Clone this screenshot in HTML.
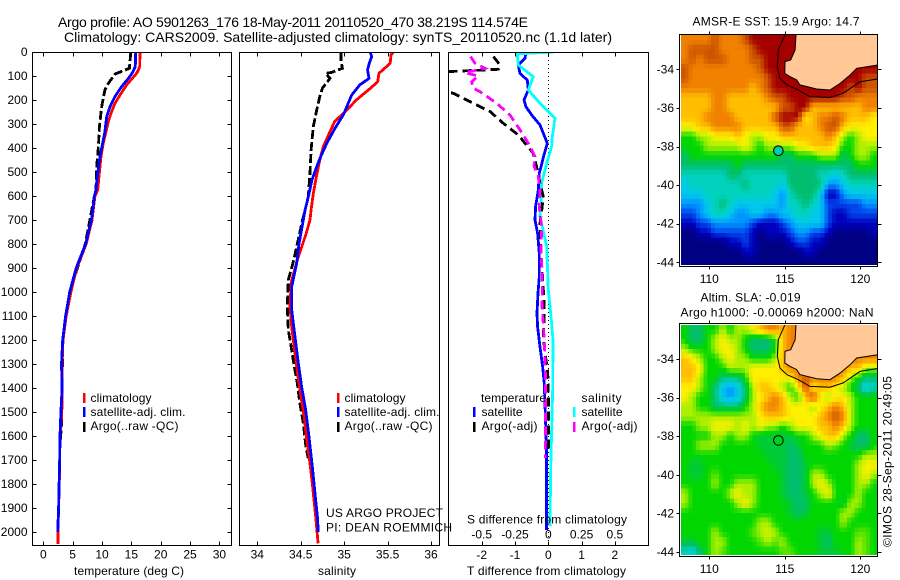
<!DOCTYPE html>
<html>
<head>
<meta charset="utf-8">
<title>Argo profile</title>
<style>
html,body{margin:0;padding:0;background:#fff;width:900px;height:580px;overflow:hidden}
svg{display:block}
text{font-family:"Liberation Sans",sans-serif;font-size:12px;fill:#000}
.title{font-size:14px}
.m{font-size:13px}
</style>
</head>
<body>
<svg id="chart" width="900" height="580" viewBox="0 0 900 580" xmlns="http://www.w3.org/2000/svg">
<defs>
<clipPath id="clipT"><rect x="32" y="52" width="199" height="493"/></clipPath>
<clipPath id="clipS"><rect x="239" y="52" width="200" height="493"/></clipPath>
<clipPath id="clipD"><rect x="448" y="52" width="200" height="493"/></clipPath>
<clipPath id="clipM1"><rect x="681" y="35" width="196" height="230"/></clipPath>
<clipPath id="clipM2"><rect x="681" y="325" width="196" height="230"/></clipPath>
</defs>

<text class="title" x="58" y="27" textLength="470">Argo profile: AO 5901263_176 18-May-2011 20110520_470 38.219S 114.574E</text>
<text class="title" x="64" y="42" textLength="548">Climatology: CARS2009. Satellite-adjusted climatology: synTS_20110520.nc (1.1d later)</text>

<g id="panelT"></g>
<g id="panelS"></g>
<g id="panelD"></g>
<g id="map1"></g>
<g id="map2"></g>

<text x="74" y="575" textLength="110">temperature (deg C)</text>
<text x="318" y="575" textLength="38">salinity</text>
<text x="467" y="575" textLength="159">T difference from climatology</text>
<text x="467" y="523.5" textLength="160">S difference from climatology</text>

<rect x="83" y="393" width="2.5" height="10" fill="#f00"/>
<rect x="83" y="407" width="2.5" height="10" fill="#00f"/>
<rect x="83" y="422" width="2.5" height="10" fill="#000"/>
<text x="90.5" y="402" textLength="61">climatology</text>
<text x="90.5" y="416" textLength="95">satellite-adj. clim.</text>
<text x="90.5" y="430" textLength="88">Argo(..raw -QC)</text>

<rect x="337" y="393" width="2.5" height="10" fill="#f00"/>
<rect x="337" y="407" width="2.5" height="10" fill="#00f"/>
<rect x="337" y="422" width="2.5" height="10" fill="#000"/>
<text x="344.5" y="402" textLength="61">climatology</text>
<text x="344.5" y="416" textLength="95">satellite-adj. clim.</text>
<text x="344.5" y="430" textLength="88">Argo(..raw -QC)</text>

<text x="326" y="517" textLength="117">US ARGO PROJECT</text>
<text x="326" y="531.5" textLength="126">PI: DEAN ROEMMICH</text>

<text x="481" y="402" textLength="65">temperature</text>
<text x="581.5" y="402" textLength="40">salinity</text>
<rect x="473" y="407" width="2.5" height="10" fill="#00f"/>
<rect x="473" y="422" width="2.5" height="10" fill="#000"/>
<rect x="573" y="407" width="2.5" height="10" fill="#0ff"/>
<rect x="573" y="422" width="2.5" height="10" fill="#f0f"/>
<text x="481.5" y="416" textLength="41">satellite</text>
<text x="481.5" y="430" textLength="56">Argo(-adj)</text>
<text x="581.5" y="416" textLength="41">satellite</text>
<text x="581.5" y="430" textLength="56">Argo(-adj)</text>

<text x="692.5" y="25.5" textLength="167">AMSR-E SST: 15.9 Argo: 14.7</text>
<text x="700.5" y="301.5" textLength="100">Altim. SLA: -0.019</text>
<text x="680.5" y="316.5" textLength="193">Argo h1000: -0.00069 h2000: NaN</text>
<text transform="translate(891.5,547) rotate(-90)" textLength="171">©IMOS 28-Sep-2011 20:49:05</text>
</svg>

<script>
// ---------- axis tick data ----------
const depthTicks = [0,100,200,300,400,500,600,700,800,900,1000,1100,1200,1300,1400,1500,1600,1700,1800,1900,2000];
const tempTicks = [0,5,10,15,20,25,30];
const salTicks = [34,34.5,35,35.5,36];
const tdiffTicks = [-2,-1,0,1,2];
const sdiffTicks = [-0.5,-0.25,0,0.25,0.5];
const lonTicks = [110,115,120];
const latTicks = [-34,-36,-38,-40,-42,-44];

// ---------- temperature panel ----------
const tempClimDepth = [0,61,86,105,137,179,214,248,290,332,381,436,506,575,600,700,800,900,1000,1100,1200,1300,1400,1500,1600,1800,1900,2000,2050];
const tempClimValue = [16.47,16.42,16,15.34,14.2,13.07,12.2,11.65,11.08,10.68,10.2,9.83,9.54,9.26,8.8,8.3,7.3,5.7,4.7,3.9,3.35,3.2,3.24,3.15,2.85,2.73,2.6,2.5,2.5];
const tempSatDepth = [0,61,86,110,144,186,228,269,332,381,436,506,575,600,700,800,900,1000,1100,1200,1300,1400,1500,1600,1700,1800,1900,2000];
const tempSatValue = [15.74,15.68,15.2,14.5,13.35,12.2,11.36,10.8,10.5,10.1,9.66,9.26,8.97,8.7,8.2,7.2,5.6,4.5,3.8,3.3,3.1,3.2,3,2.85,2.8,2.7,2.6,2.45];
const tempArgoDepth = [0,68,92,130,158,227,311,394,477,575,600,800,1000,1200,1400,1550,1660];
const tempArgoValue = [14.9,14.66,12.2,11.1,10.5,9.95,9.55,9.38,9.1,8.97,8.7,7.15,4.5,3.3,3.2,3.1,2.8];

// ---------- salinity panel ----------
const salClimDepth = [0,12,47,89,124,158,200,242,290,346,394,450,519,589,658,700,760,867,960,1061,1158,1256,1346,1436,1519,1617,1714,1797,1867,1950,2047];
const salClimValue = [35.566,35.54,35.53,35.4,35.386,35.28,35.14,35.03,34.89,34.82,34.76,34.72,34.68,34.645,34.62,34.607,34.56,34.46,34.39,34.377,34.4,34.434,34.465,34.503,34.54,34.569,34.607,34.633,34.653,34.676,34.7];
const salSatDepth = [0,19,47,75,110,137,179,228,262,318,380,436,478,533,603,658,700,800,880,978,1075,1186,1297,1394,1492,1603,1728,1839,1950,1999];
const salSatValue = [35.3,35.317,35.29,35.27,35.286,35.18,35.087,35.03,34.99,34.895,34.8,34.73,34.684,34.63,34.587,34.55,34.53,34.48,34.454,34.396,34.396,34.434,34.472,34.51,34.557,34.595,34.633,34.664,34.695,34.7];
const salArgoDepth = [0,33,68,85,89,110,151,186,242,311,408,505,603,658,700,800,874,950,1061,1158,1242,1311,1380,1464,1547,1644,1693];
const salArgoValue = [34.964,34.964,34.98,34.857,34.787,34.837,34.75,34.72,34.684,34.645,34.62,34.607,34.587,34.55,34.52,34.46,34.415,34.357,34.345,34.357,34.396,34.426,34.46,34.49,34.53,34.56,34.587];

// ---------- difference panel ----------
const dtSatDepth = [0,26,54,89,117,158,200,228,262,304,380,429,505,575,644,700,755,839,936,1005,1089,1145,1228,1311,1380,1671,1992];
const dtSatValue = [-0.67,-0.7,-0.9,-0.85,-0.63,-0.6,-0.73,-0.67,-0.5,-0.25,-0.03,-0.13,-0.27,-0.3,-0.38,-0.4,-0.32,-0.27,-0.27,-0.31,-0.34,-0.32,-0.25,-0.17,-0.12,-0.05,-0.05];
const dsSatDepth = [0,8,54,103,158,214,276,353,394,464,547,575,686,728,811,908,992,1061,1130,1200,1400,1735,1975];
const dsSatValue = [0.0375,-0.233,-0.225,-0.113,-0.15,-0.062,0.05,0.03,0.025,-0.012,-0.05,-0.05,-0.062,-0.045,-0.012,-0.005,0,0.013,0.025,0.035,0.033,0.018,0.013];
const dtArgoDepth = [19,54,72,85,100,150,172,214,248,297,346,422,478,547,603,665,714,839,922,1033,1130,1186,1255,1325,1394,1658];
const dtArgoValue = [-1.65,-1.45,-1.5,-3.5,-4,-3.6,-2.85,-2.25,-1.75,-1.35,-0.9,-0.45,-0.35,-0.25,-0.15,-0.2,-0.25,-0.22,-0.18,-0.13,-0.13,-0.15,-0.1,-0.02,0,0.01];
const dsArgoDepth = [19,47,68,86,100,124,151,165,214,262,325,380,436,475,519,575,644,728,839,922,992,1061,1130,1186,1269,1380,1692];
const dsArgoValue = [-0.583,-0.55,-0.475,-0.625,-0.526,-0.575,-0.563,-0.513,-0.387,-0.288,-0.212,-0.15,-0.1,-0.107,-0.075,-0.062,-0.068,-0.05,-0.055,-0.045,-0.045,-0.047,-0.0375,-0.032,-0.025,-0.02,-0.0225];

// ---------- map geography ----------
const coastLon = [115.74,115.68,115.39,115.01,115,115.34,115.79,116,117.11,117.99,118.66,119.32,119.76,121.13];
const coastLat = [-32.22,-33,-33.52,-33.6,-34.21,-34.38,-34.55,-34.81,-35.02,-35.07,-34.73,-34.3,-33.95,-33.78];
const shelfLon = [115.01,114.57,114.5,114.68,115.13,115.9,116.67,117.99,118.87,119.98,121.13];
const shelfLat = [-32.22,-33,-33.87,-34.47,-34.81,-35.07,-35.42,-35.46,-35.24,-34.64,-34.5];
const floatLon = [114.574];
const floatLat = [-38.219];

// ---------- map colour indexes (0 navy ... 13 dark red), rows north to south ----------
const sstGrid = [
[11,11,11,11,12,11,11,11,12,13,13,13,13,13,13,13,13,13,13,13,13,13,13,13,13,13],
[11,12,12,12,12,11,11,11,11,12,13,13,13,13,13,13,13,13,13,13,13,13,13,13,13,13],
[11,12,11,12,12,12,11,11,11,12,12,13,13,13,13,13,13,13,13,13,13,13,13,13,13,13],
[12,11,11,11,11,11,11,11,11,11,12,13,13,13,13,13,13,13,13,13,13,13,13,13,13,13],
[12,11,11,11,11,11,11,11,11,11,11,12,13,13,13,13,13,13,13,13,13,13,13,13,12,12],
[11,11,11,11,11,11,11,11,11,10,11,12,13,13,13,13,13,13,13,13,13,13,12,13,12,12],
[10,10,10,10,11,11,10,10,10,10,10,11,12,12,13,13,13,13,13,13,13,12,12,11,11,11],
[10,10,10,10,11,11,10,10,10,10,10,10,10,12,12,13,13,10,10,10,10,10,10,10,11,11],
[10,10,10,11,11,11,11,10,10,10,10,10,12,13,13,13,9,10,11,11,12,11,10,10,10,9],
[9,9,10,10,11,11,11,11,10,10,10,10,10,12,12,10,10,10,11,12,12,10,9,9,9,9],
[7,7,8,8,9,9,9,10,9,8,8,9,9,10,10,10,10,10,10,11,10,8,7,8,9,9],
[7,7,7,8,8,8,8,8,9,8,7,8,8,8,8,9,9,10,10,10,9,7,7,8,8,8],
[6,7,7,7,7,7,7,7,7,7,7,7,7,6,6,7,7,7,8,8,8,6,7,8,8,7],
[6,6,6,6,6,6,6,7,6,6,6,6,6,6,6,6,6,6,6,6,6,6,6,7,7,7],
[5,5,5,5,5,5,6,6,5,5,5,5,5,5,6,6,6,6,5,5,4,5,6,6,6,6],
[4,5,5,5,5,5,5,5,6,5,5,5,5,4,6,6,6,6,6,3,3,4,5,5,5,5],
[4,4,4,5,5,5,5,5,5,5,5,5,4,3,5,6,6,6,4,1,1,3,4,4,4,4],
[3,3,3,4,5,6,5,4,4,4,4,4,4,3,5,5,6,5,4,2,2,2,2,2,3,3],
[2,2,3,4,5,5,4,3,3,4,4,3,3,4,4,5,5,4,4,2,1,1,2,2,2,2],
[1,1,2,2,3,3,3,3,3,2,1,1,1,2,3,4,4,4,4,2,1,1,1,1,1,1],
[0,0,1,1,2,2,2,2,2,1,0,1,1,1,2,3,3,2,2,1,0,0,0,0,0,1],
[0,0,0,0,0,0,1,1,2,1,0,0,0,0,1,2,2,1,1,0,0,0,0,0,0,0],
[0,0,0,0,0,0,0,0,1,1,0,0,0,0,0,0,1,1,0,0,0,0,0,0,0,0],
[0,0,0,0,0,0,0,0,0,0,0,0,0,0,0,0,0,0,0,0,0,0,0,0,0,0]
];
const slaGrid = [
[7,6,6,7,7,8,7,8,8,9,10,11,11,10,11,11,11,11,11,11,11,11,11,11,11,11],
[7,6,6,7,8,9,8,8,7,6,6,6,7,10,11,11,11,11,11,11,11,11,11,11,11,11],
[8,7,7,7,8,9,9,8,7,6,6,6,7,10,11,11,11,11,11,11,11,11,11,11,11,11],
[10,9,8,7,7,8,9,8,8,7,7,7,8,10,11,11,11,11,11,11,11,11,11,11,11,11],
[10,10,9,7,7,7,8,8,8,9,9,9,9,10,11,11,11,11,11,11,11,11,10,10,8,8],
[10,10,8,7,7,6,6,6,7,9,9,9,9,9,9,11,12,11,11,11,11,10,8,7,6,6],
[9,9,8,7,6,4,3,4,6,8,10,10,9,8,7,9,12,9,10,10,9,8,7,6,4,5],
[9,8,7,7,6,4,3,4,6,8,9,10,11,10,8,7,10,12,9,8,9,9,8,7,7,7],
[8,8,7,7,6,6,6,6,7,8,10,11,11,10,9,9,9,8,9,10,11,10,8,7,7,7],
[8,8,8,8,8,8,8,8,8,8,9,10,10,10,9,9,9,9,10,11,12,11,8,7,7,7],
[7,7,8,8,9,9,9,8,9,8,9,8,8,7,8,9,9,9,10,10,11,10,8,7,7,7],
[7,7,7,7,8,8,7,8,8,7,6.5,6.5,6.5,6.5,6.5,7,7,8,9,10,10,8,7,6,6,7],
[7,7,8,8,8,7,7,7,7,7,6.5,6.5,6.5,6.5,6,6.5,7,7,7,8,7.5,7,6.5,6,6,7],
[7,7,7,7,7,7,7,7,7,7,7,6.5,6.5,6.5,6,6,7,7,7,7,7,7,7,7,8,8],
[7,6.5,6.5,7,7,7,7,7,7,7,7,7,6.5,6.5,6,6,6.5,7,7,7,7,7,7,8,9,9],
[7,6.5,6.5,7,7.5,7,7,7,7,7,7,7,7,6.5,6,6,6.5,8,8,7,7,7,7,8,9,8],
[7,7,7,7,8,7,7,8,8,8,7,7,7,6.5,6,6,6.5,8,9,8,7,7,7,8,8,7],
[8,7,7,7,7,7,8,9,8,8,7,7,7,6.5,6,6,6.5,7,8,9,7,7,7,8,7,7],
[8,7,7,7,7,7,7,8,9,8,7,7,7,7,6.5,6,6,7,7,7,7,6.5,8,8,7,7],
[7,7,7,7,7,7,7,7,7,7,7,7,7,7,6.5,6,6.5,7,7,7,7,8,8,7,7,7],
[7,7,7,7,7,7,7,7,7,7,8,8,7,7,7,7,7,7,7,7,7,8,7,7,7,7],
[7,7,7,7,8,7,7,7,7,7.5,8,8.5,8,7,7,7,7,7,6.5,6.5,7,7,7,7.5,7.5,7],
[6.5,6.5,7,7,8,8,7,7,7,7,7.5,8,7.5,8,7,7,7,7,6.5,6,7,7,7,8,7.5,7],
[5,4.5,6,7,8,7.5,7,7,7,7,7,7,7,7.5,7.5,7,7,7,6.5,6.5,6.5,7,7,8,7.5,7]
];
const floatIndexSst = [5.3];
const floatIndexSla = [6.7];

// ---------- scales ----------
const NS = 'http://www.w3.org/2000/svg';
function yDepth(d){ return 52 + 0.24*d; }
function xTemp(v){ return 43.3 + 5.87*v; }
function xSal(v){ return 257.3 + 86.85*(v-34); }
function xDT(v){ return 548.3 + 33.3*v; }
function xDS(v){ return 548.3 + 133.2*v; }
function xLon(v){ return 709.3 + 15.1*(v-110); }
function yLat1(v){ return 69.3 + 19.3*(-34-v); }
function yLat2(v){ return 359 + 19.3*(-34-v); }
const ramp = [[0,0,130],[0,0,190],[0,70,235],[0,150,255],[0,200,235],[0,210,190],[0,190,110],[0,215,0],[170,240,0],[255,240,0],[255,190,0],[240,130,0],[205,85,0],[165,0,0]];
function colorOf(i){
  const a = Math.max(0,Math.min(13,i)), f = Math.floor(a), c = Math.min(13,f+1), t = a-f;
  const m = [0,1,2].map(k => Math.round(ramp[f][k]*(1-t)+ramp[c][k]*t));
  return 'rgb('+m.join(',')+')';
}
function make(tag, parent, attrs){
  const el = document.createElementNS(NS, tag);
  for (const k in attrs) el.setAttribute(k, attrs[k]);
  parent.appendChild(el);
  return el;
}
function fmt(n){ return String(n); }

function drawSeries(parent, clip, xs, ds, xf, color, dash, width, name){
  const pts = ds.map((d,i) => xf(xs[i]).toFixed(1)+','+yDepth(d).toFixed(1)).join(' ');
  const a = {points:pts, fill:'none', stroke:color, 'stroke-width':width, 'clip-path':'url(#'+clip+')', 'shape-rendering':'crispEdges'};
  if (dash) a['stroke-dasharray'] = dash;
  const el = make('polyline', parent, a);
  
  
}

function frame(parent, x0, x1, y0, y1, name){
  const el = make('rect', parent, {x:x0, y:y0, width:x1-x0, height:y1-y0, fill:'none', stroke:'#000', 'stroke-width':1, 'shape-rendering':'crispEdges'});
  
  
}
function tickV(parent, x, y0, y1, name){
  const el = make('line', parent, {x1:x, x2:x, y1:y0, y2:y1, stroke:'#000', 'stroke-width':1, 'shape-rendering':'crispEdges'});
  
  
}
function tickH(parent, x0, x1, y, name){
  const el = make('line', parent, {x1:x0, x2:x1, y1:y, y2:y, stroke:'#000', 'stroke-width':1, 'shape-rendering':'crispEdges'});
  
  
}
function label(parent, x, y, txt, anchor, name){
  const el = make('text', parent, {x:x, y:y, 'text-anchor':anchor});
  el.textContent = txt;
  
  
}
function xAxis(parent, ticks, xf, top, bot, ly, name){
  ticks.forEach(t => {
    const x = Math.round(xf(t))+0.5;
    tickV(parent, x, top, top+4, name+'-tick-top');
    tickV(parent, x, bot-4, bot, name+'-tick-bottom');
    label(parent, xf(t), ly, fmt(t), 'middle', name+'-tick-label');
  });
}

// ---------- profile panels ----------
const pT = document.getElementById('panelT');
const pS = document.getElementById('panelS');
const pD = document.getElementById('panelD');
const TOP = 52.5, BOT = 545.5;

drawSeries(pT,'clipT',tempArgoValue,tempArgoDepth,xTemp,'#000','9 3',2.8,'temperature-argo-line');
drawSeries(pT,'clipT',tempClimValue,tempClimDepth,xTemp,'#f00',null,2.8,'temperature-climatology-line');
drawSeries(pT,'clipT',tempSatValue,tempSatDepth,xTemp,'#00f',null,2.8,'temperature-satellite-line');
frame(pT,32.5,231.5,TOP,BOT,'temperature-plot-frame');
xAxis(pT,tempTicks,xTemp,TOP,BOT,558.5,'temperature-axis');
depthTicks.forEach(d => {
  const y = Math.round(yDepth(d))+0.5;
  tickH(pT,32.5,36.5,y,'depth-tick-left');
  tickH(pT,227.5,231.5,y,'depth-tick-right');
  label(pT,27.5,yDepth(d)+4,fmt(d),'end','depth-tick-label');
});

drawSeries(pS,'clipS',salArgoValue,salArgoDepth,xSal,'#000','9 3',2.8,'salinity-argo-line');
drawSeries(pS,'clipS',salClimValue,salClimDepth,xSal,'#f00',null,2.8,'salinity-climatology-line');
drawSeries(pS,'clipS',salSatValue,salSatDepth,xSal,'#00f',null,2.8,'salinity-satellite-line');
frame(pS,239.5,439.5,TOP,BOT,'salinity-plot-frame');
xAxis(pS,salTicks,xSal,TOP,BOT,558.5,'salinity-axis');

const zero = make('line', pD, {x1:548.5, x2:548.5, y1:52, y2:545, stroke:'#000', 'stroke-width':1, 'stroke-dasharray':'1 3', 'shape-rendering':'crispEdges'});


drawSeries(pD,'clipD',dtSatValue,dtSatDepth,xDT,'#00f',null,2.8,'t-difference-satellite-line');
drawSeries(pD,'clipD',dsSatValue,dsSatDepth,xDS,'#0ff',null,2.8,'s-difference-satellite-line');
drawSeries(pD,'clipD',dtArgoValue,dtArgoDepth,xDT,'#000','9 5',2.8,'t-difference-argo-line');
drawSeries(pD,'clipD',dsArgoValue,dsArgoDepth,xDS,'#f0f','9 5',2.8,'s-difference-argo-line');
frame(pD,448.5,648.5,TOP,BOT,'difference-plot-frame');
xAxis(pD,tdiffTicks,xDT,TOP,BOT,559,'t-difference-axis');
sdiffTicks.forEach(t => {
  label(pD,xDS(t),538.5,fmt(t),'middle','s-difference-tick-label');
});

// ---------- maps ----------
const CELL_LON0 = 108.126, CELL_LAT0 = -32.22, CELL = 0.5, SUB = 2;
function sampleGrid(grid, r, c){
  const nr = grid.length, nc = grid[0].length;
  const rr = Math.max(0,Math.min(nr-1,r)), cc = Math.max(0,Math.min(nc-1,c));
  const r0 = Math.floor(rr), c0 = Math.floor(cc), r1 = Math.min(nr-1,r0+1), c1 = Math.min(nc-1,c0+1);
  const u = rr-r0, v = cc-c0;
  return (grid[r0][c0]*(1-v)+grid[r0][c1]*v)*(1-u) + (grid[r1][c0]*(1-v)+grid[r1][c1]*v)*u;
}
function drawMap(g, grid, yLat, clip, top, bot, labelY, floatIdx, name){
  const cells = make('g', g, {'clip-path':'url(#'+clip+')', 'shape-rendering':'crispEdges'});
  
  
  const step = CELL/SUB;
  for (let r = 0; r < grid.length*SUB; r++) {
    for (let c = 0; c < grid[0].length*SUB; c++) {
      const v = sampleGrid(grid, (r+0.5)/SUB-0.5, (c+0.5)/SUB-0.5);
      const x0 = xLon(CELL_LON0 + c*step), x1 = xLon(CELL_LON0 + (c+1)*step);
      const y0 = yLat(CELL_LAT0 - r*step), y1 = yLat(CELL_LAT0 - (r+1)*step);
      const cell = make('rect', cells, {x:x0.toFixed(2), y:y0.toFixed(2), width:(x1-x0+0.4).toFixed(2), height:(y1-y0+0.4).toFixed(2), fill:colorOf(v)});
      
      
    }
  }
  let pts = coastLon.map((lo,i) => xLon(lo).toFixed(1)+','+yLat(coastLat[i]).toFixed(1)).join(' ');
  pts += ' '+xLon(121.13).toFixed(1)+','+yLat(-32.1).toFixed(1)+' '+xLon(115.74).toFixed(1)+','+yLat(-32.1).toFixed(1);
  const land = make('polygon', g, {points:pts, fill:'rgb(255,200,150)', stroke:'none', 'clip-path':'url(#'+clip+')'});
  
  
  const coastPts = coastLon.map((lo,i) => xLon(lo).toFixed(1)+','+yLat(coastLat[i]).toFixed(1)).join(' ');
  const coast = make('polyline', g, {points:coastPts, fill:'none', stroke:'#000', 'stroke-width':1, 'clip-path':'url(#'+clip+')'});
  
  
  const shelfPts = shelfLon.map((lo,i) => xLon(lo).toFixed(1)+','+yLat(shelfLat[i]).toFixed(1)).join(' ');
  const shelf = make('polyline', g, {points:shelfPts, fill:'none', stroke:'#000', 'stroke-width':1, 'clip-path':'url(#'+clip+')'});
  
  
  const dot = make('circle', g, {cx:xLon(floatLon[0]).toFixed(1), cy:yLat(floatLat[0]).toFixed(1), r:4.8, fill:colorOf(floatIdx[0]), stroke:'#000', 'stroke-width':1});
  
  
  frame(g,679.5,877.5,top,bot,name+'-frame');
  lonTicks.forEach(t => {
    const x = Math.round(xLon(t))+0.5;
    tickV(g,x,top-3,top,name+'-lon-tick-top');
    tickV(g,x,bot,bot+3,name+'-lon-tick-bottom');
    label(g,xLon(t),labelY,fmt(t),'middle',name+'-lon-label');
  });
  latTicks.forEach(t => {
    const y = Math.round(yLat(t))+0.5;
    tickH(g,676.5,679.5,y,name+'-lat-tick-left');
    tickH(g,877.5,881.5,y,name+'-lat-tick-right');
    label(g,674,yLat(t)+4,fmt(t),'end',name+'-lat-label');
  });
}
drawMap(document.getElementById('map1'), sstGrid, yLat1, 'clipM1', 34.5, 266.5, 283, floatIndexSst, 'sst-map');
drawMap(document.getElementById('map2'), slaGrid, yLat2, 'clipM2', 323.5, 556.5, 573, floatIndexSla, 'sla-map');
</script>
</body>
</html>
